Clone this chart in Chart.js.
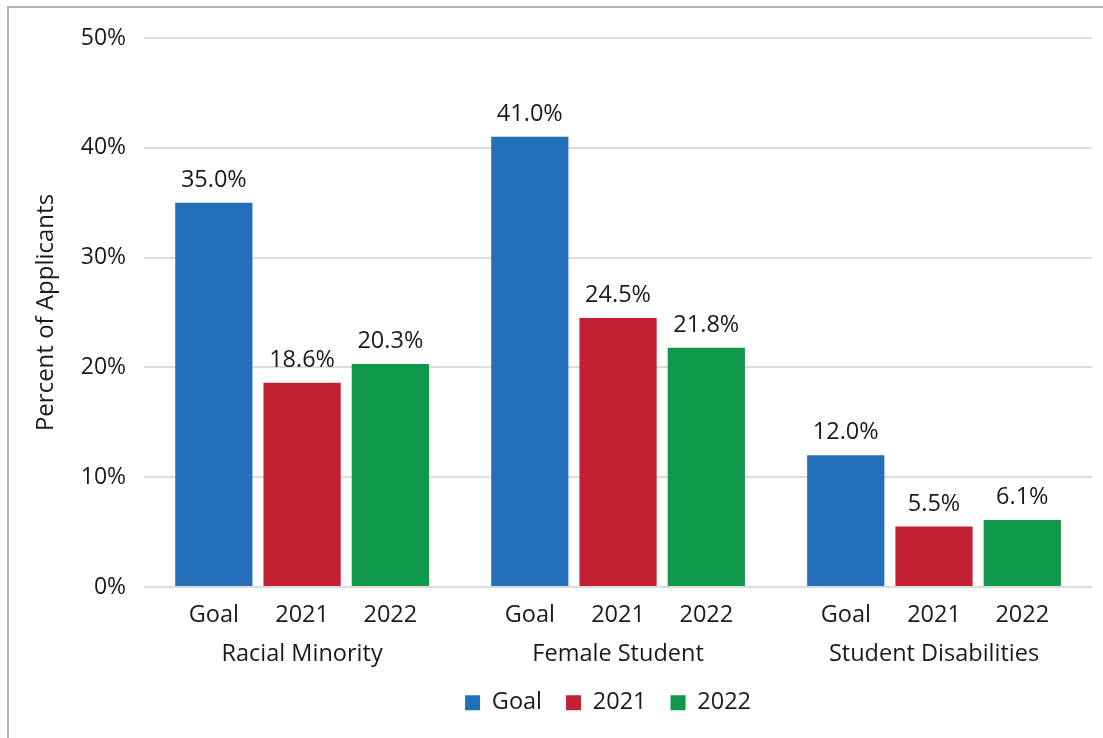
<!DOCTYPE html>
<html>
<head>
<meta charset="utf-8">
<script src="https://cdn.jsdelivr.net/npm/chart.js@4.4.1/dist/chart.umd.min.js"></script>
<style>
    html, body { margin: 0; padding: 0; background: #fff; }
    #wrap { position: relative; width: 1103px; height: 738px; overflow: hidden; }
    #frame { position: absolute; left: 7px; top: 6px; width: 1200px; height: 800px;
             border-left: 2px solid #b4b4b4; border-top: 2px solid #b4b4b4; }
    canvas { position: absolute; left: 0; top: 0; }
</style>
</head>
<body>
<div id="wrap">
    <div id="frame"></div>
    <canvas id="chart" width="1103" height="738"></canvas>
</div>
<script>
const categories = ["Racial Minority", "Female Student", "Student Disabilities"];
const seriesNames = ["Goal", "2021", "2022"];
const goalValues = [35.0, 41.0, 12.0];
const values2021 = [18.6, 24.5, 5.5];
const values2022 = [20.3, 21.8, 6.1];
const seriesColors = ["#2370b9", "#c42033", "#0f984a"];

const fontFamily = "'Open Sans', 'Noto Sans', sans-serif";
const textColor = "#1a1a1a";

// value labels above each bar + series name under each bar
const barLabels = {
    id: "barLabels",
    afterLayout(chart) {
        // legend is centred under the plot area rather than the whole canvas
        const lg = chart.legend;
        const shift = (chart.chartArea.left + chart.chartArea.right) / 2 - (lg.left + lg.right) / 2 - 10;
        lg.left += shift;
        lg.right += shift;
    },
    afterDatasetsDraw(chart) {
        const ctx = chart.ctx;
        const area = chart.chartArea;
        ctx.save();
        ctx.font = "23.5px " + fontFamily;
        ctx.fillStyle = textColor;
        ctx.textAlign = "center";
        ctx.textBaseline = "alphabetic";
        chart.data.datasets.forEach((ds, i) => {
            const meta = chart.getDatasetMeta(i);
            meta.data.forEach((bar, j) => {
                ctx.fillText(ds.data[j].toFixed(1) + "%", bar.x, bar.y - 16);
                ctx.fillText(ds.label, bar.x, area.bottom + 35);
            });
        });
        ctx.restore();
    }
};

new Chart(document.getElementById("chart"), {
    type: "bar",
    data: {
        labels: categories,
        datasets: [
            { label: seriesNames[0], data: goalValues, backgroundColor: seriesColors[0] },
            { label: seriesNames[1], data: values2021, backgroundColor: seriesColors[1] },
            { label: seriesNames[2], data: values2022, backgroundColor: seriesColors[2] }
        ]
    },
    options: {
        responsive: false,
        animation: false,
        categoryPercentage: 0.838,
        barPercentage: 0.875,
        layout: { padding: { left: 32, right: 11, top: 38, bottom: 16 } },
        plugins: {
            legend: {
                position: "bottom",
                maxHeight: 55,
                labels: {
                    boxWidth: 15,
                    boxHeight: 15,
                    padding: 24,
                    color: textColor,
                    font: { family: fontFamily, size: 23.5 }
                }
            },
            tooltip: { enabled: false }
        },
        scales: {
            x: {
                grid: { display: false, drawTicks: false },
                border: { display: false },
                afterFit: s => { s.height = 80; },
                ticks: {
                    color: textColor,
                    padding: 53,
                    maxRotation: 0,
                    autoSkip: false,
                    font: { family: fontFamily, size: 23.5 }
                }
            },
            y: {
                min: 0,
                max: 50,
                grid: { color: "#dcdcdc", lineWidth: 2, drawTicks: false },
                border: { display: false },
                ticks: {
                    stepSize: 10,
                    padding: 18,
                    color: textColor,
                    font: { family: fontFamily, size: 23 },
                    callback: v => v + "%"
                },
                title: {
                    display: true,
                    text: "Percent of Applicants",
                    color: textColor,
                    padding: { top: 0, bottom: 2 },
                    font: { family: fontFamily, size: 24 }
                }
            }
        }
    },
    plugins: [barLabels]
});
</script>
</body>
</html>
